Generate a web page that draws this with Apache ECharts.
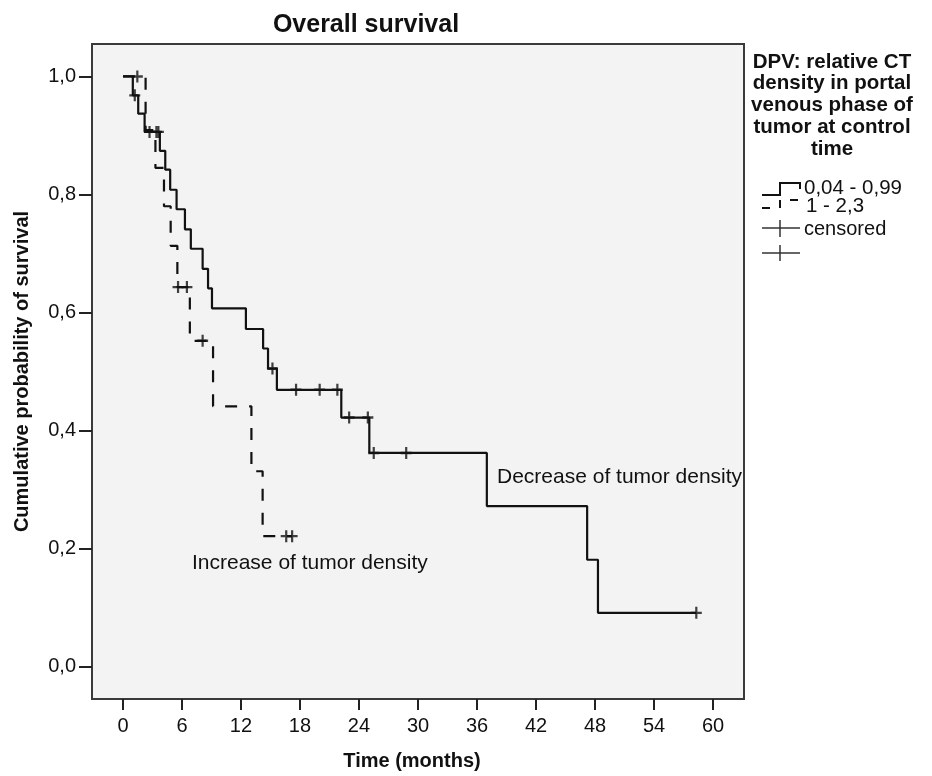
<!DOCTYPE html>
<html>
<head>
<meta charset="utf-8">
<script src="https://cdn.jsdelivr.net/npm/echarts@6/dist/echarts.min.js"></script>
<style>
  html, body { margin: 0; padding: 0; background: #fff; }
  #survivalChart { width: 932px; height: 776px; }
</style>
</head>
<body>
<div id="survivalChart"></div>
<script>
// group 0,04 - 0,99 (decrease of tumor density)
const decTime = [0, 1.0, 1.55, 2.2, 3.75, 4.3, 4.8, 5.45, 6.3, 6.9, 8.1, 8.65, 9.05, 12.5, 14.25, 14.75, 15.65, 22.2, 25.05, 37.0, 47.2, 48.3, 58.3];
const decSurv = [1, 0.968, 0.937, 0.906, 0.874, 0.842, 0.808, 0.775, 0.741, 0.708, 0.674, 0.641, 0.607, 0.572, 0.539, 0.505, 0.469, 0.422, 0.362, 0.272, 0.181, 0.091, 0.091];
const decCensTime = [1.2, 2.7, 3.4, 3.6, 15.2, 17.6, 20.0, 21.8, 23.0, 24.9, 25.5, 28.8, 58.3];
const decCensSurv = [0.968, 0.906, 0.906, 0.906, 0.505, 0.469, 0.469, 0.469, 0.422, 0.422, 0.362, 0.362, 0.091];

// group 1 - 2,3 (increase of tumor density)
const incTime = [0, 2.3, 3.3, 4.17, 4.85, 5.53, 6.8, 9.16, 13.06, 14.2, 17.2];
const incSurv = [1, 0.909, 0.845, 0.78, 0.713, 0.643, 0.552, 0.441, 0.331, 0.221, 0.221];
const incCensTime = [1.46, 5.6, 6.5, 8.1, 16.6, 17.2];
const incCensSurv = [1, 0.643, 0.643, 0.552, 0.221, 0.221];

const xTicks = [0, 6, 12, 18, 24, 30, 36, 42, 48, 54, 60];
const yTicks = [0, 0.2, 0.4, 0.6, 0.8, 1.0];
const legendTitle = 'DPV: relative CT\ndensity in portal\nvenous phase of\ntumor at control\ntime';
const groupNames = ['0,04 - 0,99', '1 - 2,3'];

const zip = (a, b) => a.map((v, i) => [v, b[i]]);
const plus = 'path://M4,0h2v4h4v2h-4v4h-2v-4h-4v-2h4z';
const ink = '#111';
const font = 'Liberation Sans, Arial, sans-serif';

const chart = echarts.init(document.getElementById('survivalChart'));

chart.setOption({
  animation: false,
  backgroundColor: '#fff',
  title: {
    text: 'Overall survival',
    left: 361,
    top: 8,
    textAlign: 'center',
    textStyle: { fontFamily: font, fontSize: 25, fontWeight: 'bold', color: '#111' }
  },
  grid: {
    left: 92, right: 188, top: 44, bottom: 77,
    show: true,
    backgroundColor: '#f3f3f3',
    borderColor: '#3a3a3a',
    borderWidth: 2,
    containLabel: false,
    outerBoundsMode: 'none'
  },
  xAxis: {
    type: 'value',
    min: -3.15,
    max: 63.15,
    name: 'Time (months)',
    nameLocation: 'middle',
    nameGap: 52,
    nameTextStyle: { fontFamily: font, fontSize: 20, fontWeight: 'bold', color: '#111', padding: [0, 12, 0, 0] },
    axisLine: { show: true, onZero: false, lineStyle: { color: '#3a3a3a', width: 2 } },
    splitLine: { show: false },
    axisTick: { show: true, customValues: xTicks, length: 11, lineStyle: { color: '#222', width: 2 } },
    axisLabel: { customValues: xTicks, margin: 17, fontFamily: font, fontSize: 20, color: '#111' }
  },
  yAxis: {
    type: 'value',
    min: -0.055,
    max: 1.055,
    name: 'Cumulative probability of survival',
    nameLocation: 'middle',
    nameGap: 60,
    nameTextStyle: { fontFamily: font, fontSize: 20, fontWeight: 'bold', color: '#111' },
    axisLine: { show: true, onZero: false, lineStyle: { color: '#3a3a3a', width: 2 } },
    splitLine: { show: false },
    axisTick: { show: true, customValues: yTicks, length: 13, lineStyle: { color: '#222', width: 2 } },
    axisLabel: {
      customValues: yTicks,
      margin: 16,
      fontFamily: font,
      fontSize: 20,
      color: '#111',
      formatter: v => v.toFixed(1).replace('.', ',')
    }
  },
  series: [
    {
      name: groupNames[0],
      type: 'line',
      step: 'end',
      showSymbol: false,
      lineStyle: { color: ink, width: 2.2 },
      data: zip(decTime, decSurv)
    },
    {
      name: groupNames[1],
      type: 'line',
      step: 'end',
      showSymbol: false,
      lineStyle: { color: ink, width: 2.2, type: [12, 12] },
      data: zip(incTime, incSurv)
    },
    {
      name: 'censored',
      type: 'scatter',
      symbol: plus,
      symbolSize: [11, 12],
      itemStyle: { color: ink },
      data: zip(decCensTime, decCensSurv)
    },
    {
      name: 'censored ',
      type: 'scatter',
      symbol: plus,
      symbolSize: [11, 12],
      itemStyle: { color: ink },
      data: zip(incCensTime, incCensSurv)
    }
  ],
  graphic: [
    // curve annotations
    { type: 'text', left: 497, top: 467, style: { text: 'Decrease of tumor density', font: '21px ' + font, fill: '#111' } },
    { type: 'text', left: 192, top: 553, style: { text: 'Increase of tumor density', font: '21px ' + font, fill: '#111' } },
    // legend
    { type: 'text', x: 832, y: 51, style: { text: legendTitle, font: 'bold 20.5px ' + font, fill: '#111', align: 'center', lineHeight: 21.8 } },
    { type: 'polyline', shape: { points: [[762, 195], [780, 195], [780, 183], [800, 183], [800, 189]] }, style: { stroke: ink, lineWidth: 2, fill: null } },
    { type: 'text', x: 804, y: 188, style: { text: groupNames[0], font: '20.5px ' + font, fill: '#111', verticalAlign: 'middle' } },
    { type: 'polyline', shape: { points: [[762, 208], [780, 208], [780, 200], [800, 200], [800, 206]] }, style: { stroke: ink, lineWidth: 2, fill: null, lineDash: [8, 10] } },
    { type: 'text', x: 806, y: 206, style: { text: groupNames[1], font: '20.5px ' + font, fill: '#111', verticalAlign: 'middle' } },
    { type: 'line', shape: { x1: 762, y1: 228, x2: 800, y2: 228 }, style: { stroke: '#333', lineWidth: 1.5 } },
    { type: 'line', shape: { x1: 780, y1: 220, x2: 780, y2: 237 }, style: { stroke: '#333', lineWidth: 1.5 } },
    { type: 'text', x: 804, y: 229, style: { text: 'censored', font: '20px ' + font, fill: '#111', verticalAlign: 'middle' } },
    { type: 'line', shape: { x1: 762, y1: 253, x2: 800, y2: 253 }, style: { stroke: '#333', lineWidth: 1.5 } },
    { type: 'line', shape: { x1: 780, y1: 245, x2: 780, y2: 261 }, style: { stroke: '#333', lineWidth: 1.5 } }
  ]
});

window.addEventListener('resize', () => chart.resize());
</script>
</body>
</html>
